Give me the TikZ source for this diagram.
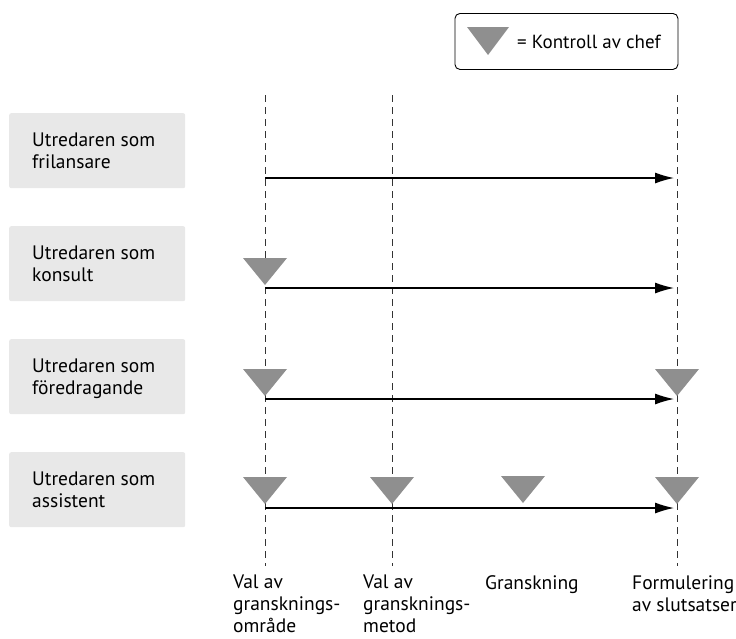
\documentclass[tikz,border=0pt]{standalone}
\usepackage{fontspec}
\setmainfont{PT Sans}
\usetikzlibrary{arrows.meta}
\definecolor{boxgray}{HTML}{E8E8E8}
\definecolor{trigray}{HTML}{8F8F8F}
\begin{document}
\begin{tikzpicture}[x=1pt,y=-1pt,
  rolebox/.style={fill=boxgray,rounded corners=2pt,minimum width=176pt,minimum height=75pt,anchor=north west,inner sep=0pt},
  roletext/.style={anchor=north west,align=left,font=\fontsize{19.5}{21.5}\selectfont,inner sep=0pt},
  steptext/.style={anchor=north west,align=left,font=\fontsize{19.5}{22}\selectfont,inner sep=0pt},
  guide/.style={dashed,dash pattern=on 7pt off 5pt,line width=0.9pt,black!80},
  flow/.style={line width=1.3pt,-{Latex[length=19pt,width=11pt]}},
  ctrl/.style={fill=trigray,draw=none}
]
\useasboundingbox (0,0) rectangle (736,638);

% legend
\node[draw,rounded corners=5pt,line width=0.9pt,minimum width=223pt,minimum height=56pt,anchor=north west,inner sep=0pt] (legend) at (454.5,13) {};
\fill[ctrl] (467,27) -- (509,27) -- (488,55) -- cycle;
\node[anchor=west,inner sep=0pt,font=\fontsize{19}{22}\selectfont] (legtext) at (517,42) {= Kontroll av chef};

% guide lines
\coordinate (g1t) at (265,95); \coordinate (g1b) at (265,566);
\coordinate (g2t) at (392,95); \coordinate (g2b) at (392,566);
\coordinate (g4t) at (677,95); \coordinate (g4b) at (677,566);
\draw[guide] (g1t) -- (g1b);
\draw[guide] (g2t) -- (g2b);
\draw[guide] (g4t) -- (g4b);

% role boxes
\node[rolebox] (r1) at (9,113) {};
\node[rolebox] (r2) at (9,226) {};
\node[rolebox] (r3) at (9,339) {};
\node[rolebox] (r4) at (9,452) {};
\node[roletext] (t1) at (32,133) {Utredaren som\\frilansare};
\node[roletext] (t2) at (32,246) {Utredaren som\\konsult};
\node[roletext] (t3) at (32,359) {Utredaren som\\föredragande};
\node[roletext] (t4) at (32,472) {Utredaren som\\assistent};

% arrows
\coordinate (a1s) at (265,178); \coordinate (a1e) at (674,178);
\coordinate (a2s) at (265,288); \coordinate (a2e) at (674,288);
\coordinate (a3s) at (265,399); \coordinate (a3e) at (674,399);
\coordinate (a4s) at (265,508); \coordinate (a4e) at (674,508);
\draw[flow] (a1s) -- (a1e);
\draw[flow] (a2s) -- (a2e);
\draw[flow] (a3s) -- (a3e);
\draw[flow] (a4s) -- (a4e);

% control triangles
\newcommand{\ctrltri}[2]{\fill[ctrl] (#1-22,#2-27) -- (#1+22,#2-27) -- (#1,#2) -- cycle;}
\ctrltri{265}{285}
\ctrltri{265}{396}
\ctrltri{677}{396}
\ctrltri{265}{504}
\ctrltri{392}{504}
\ctrltri{523}{503}
\ctrltri{677}{504}

% step labels
\node[steptext] (s1) at (233,575) {Val av\\gransknings-\\område};
\node[steptext] (s2) at (363,575) {Val av\\gransknings-\\metod};
\node[steptext] (s3) at (485,575) {Granskning};
\node[steptext] (s4) at (632,575) {Formulering\\av slutsatser};
\end{tikzpicture}
\end{document}
